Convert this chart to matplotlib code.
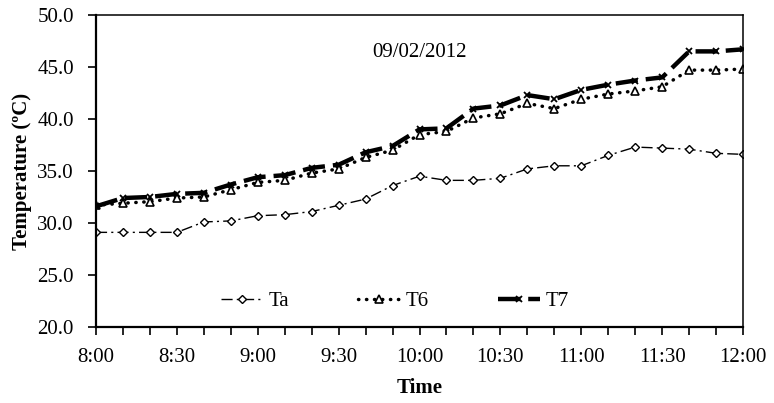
import matplotlib
matplotlib.use("Agg")
import matplotlib.pyplot as plt
import numpy as np

times = ["8:00", "8:10", "8:20", "8:30", "8:40", "8:50", "9:00", "9:10", "9:20", "9:30",
         "9:40", "9:50", "10:00", "10:10", "10:20", "10:30", "10:40", "10:50", "11:00",
         "11:10", "11:20", "11:30", "11:40", "11:50", "12:00"]
Ta = [29.1, 29.1, 29.1, 29.1, 30.1, 30.2, 30.7, 30.8, 31.1, 31.7, 32.3, 33.6, 34.5,
      34.1, 34.1, 34.3, 35.2, 35.5, 35.5, 36.5, 37.3, 37.2, 37.1, 36.7, 36.6]
T6 = [31.7, 31.9, 32.05, 32.4, 32.5, 33.2, 33.9, 34.1, 34.8, 35.2, 36.3, 37.0, 38.5,
      38.8, 40.1, 40.5, 41.5, 41.0, 41.9, 42.4, 42.7, 43.1, 44.7, 44.7, 44.8]
T7 = [31.6, 32.4, 32.5, 32.8, 32.9, 33.7, 34.4, 34.6, 35.3, 35.6, 36.8, 37.4, 39.0,
      39.1, 41.0, 41.3, 42.3, 41.9, 42.8, 43.3, 43.7, 44.0, 46.5, 46.5, 46.7]
xtick_labels = ["8:00", "8:30", "9:00", "9:30", "10:00", "10:30", "11:00", "11:30", "12:00"]
date_label = "09/02/2012"

def to_min(t):
    h, m = t.split(":")
    return (int(h) - 8) * 60 + int(m)

x = np.array([to_min(t) for t in times])

plt.rcParams['font.family'] = ['Liberation Serif', 'DejaVu Serif']
plt.rcParams['font.size'] = 15

fig = plt.figure(figsize=(7.74, 4.03), dpi=100)
ax = fig.add_axes([0.124, 0.1886, 0.836, 0.7742])

ax.plot(x, Ta, color='black', lw=1.0, linestyle=(0, (8, 3, 1.5, 3)), marker='D',
        markersize=4.5, markerfacecolor='white', markeredgecolor='black',
        markeredgewidth=1.0, label='Ta')
ax.plot(x, T6, color='black', lw=2.5, linestyle=(0, (0.1, 2.2)), dash_capstyle='round',
        marker='^', markersize=6, markerfacecolor='white', markeredgecolor='black',
        markeredgewidth=1.2, label='T6')
ax.plot(x, T7, color='black', lw=3.2, linestyle=(0, (5, 1.8)), marker='x',
        markersize=5, markeredgewidth=1.3, label='T7')

ax.set_xlim(0, 240)
ax.set_ylim(20, 50)
ax.set_xticks(np.arange(0, 241, 10), minor=True)
ax.set_xticks([to_min(t) for t in xtick_labels])
ax.set_xticklabels(xtick_labels)
ax.set_yticks(np.arange(20, 50.1, 5))
ax.set_yticklabels([f"{v:.1f}" for v in np.arange(20, 50.1, 5)])
ax.tick_params(axis='both', which='both', direction='out', length=6, width=1.2, labelsize=15)
ax.tick_params(axis='x', which='major', pad=9)
ax.tick_params(axis='y', pad=10)

for s in ['left', 'bottom']:
    ax.spines[s].set_linewidth(1.6)
for s in ['top', 'right']:
    ax.spines[s].set_linewidth(1.1)

ax.set_xlabel("Time", fontweight='bold', fontsize=15, labelpad=8)
ax.set_ylabel("Temperature (ºC)", fontweight='bold', fontsize=15, labelpad=4)

ax.text(0.5, 0.88, date_label, transform=ax.transAxes, ha='center', va='center', fontsize=15)

ax.legend(loc='center', bbox_to_anchor=(0.462, 0.082), ncol=3, frameon=False,
          handlelength=2.0, handletextpad=0.3, columnspacing=3.3, fontsize=15)

fig.savefig("out.png", dpi=100)
